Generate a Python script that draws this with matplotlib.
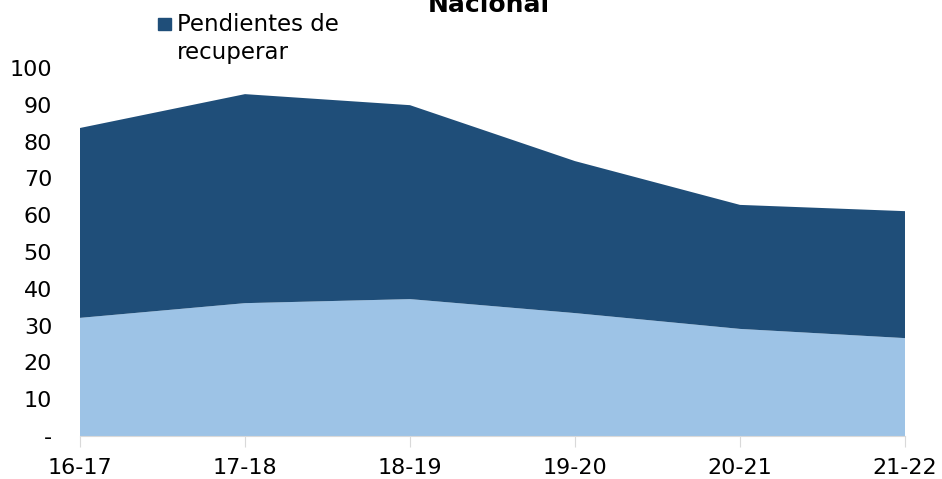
import numpy as np
import matplotlib.pyplot as plt
from matplotlib.patches import Rectangle

plt.rcParams['font.family'] = ['DejaVu Sans']

ciclos = ['16-17', '17-18', '18-19', '19-20', '20-21', '21-22']
recuperados = [32.1, 36.1, 37.2, 33.4, 29.1, 26.6]
pendientes = [51.6, 56.8, 52.7, 41.3, 33.7, 34.5]

claro = '#9DC3E6'
oscuro = '#1F4E79'

W, H = 942, 479
fig = plt.figure(figsize=(W/100, H/100), dpi=100)
ax = fig.add_axes([80/W, 1-436/H, 825/W, 368/H])

x = np.arange(len(ciclos))
ax.stackplot(x, recuperados, pendientes, colors=[claro, oscuro], linewidth=0)

ax.set_xlim(0, len(ciclos) - 1)
ax.set_ylim(0, 100)
ax.set_yticks(range(0, 101, 10))
ax.set_yticklabels(['-'] + [str(v) for v in range(10, 101, 10)])
ax.set_xticks(x)
ax.set_xticklabels(ciclos)

for s in ['top', 'right', 'left']:
    ax.spines[s].set_visible(False)
ax.spines['bottom'].set_color('#D9D9D9')
ax.tick_params(axis='y', length=0, labelsize=16, pad=20)
ax.tick_params(axis='x', length=8, color='#D9D9D9', labelsize=16, pad=8)

# leyenda solo para la serie oscura (cuadro + texto en dos lineas)
fig.add_artist(Rectangle((158/W, 1-30/H), 13/W, 12/H, color=oscuro,
                         transform=fig.transFigure))
fig.text(177/W, 1-31/H, 'Pendientes de', ha='left', va='baseline', fontsize=16.5)
fig.text(177/W, 1-59/H, 'recuperar', ha='left', va='baseline', fontsize=16.5)

fig.text(489/W, 1-12/H, 'Nacional', ha='center', va='baseline',
         fontsize=18, fontweight='bold')

fig.savefig('out.png', dpi=100)
